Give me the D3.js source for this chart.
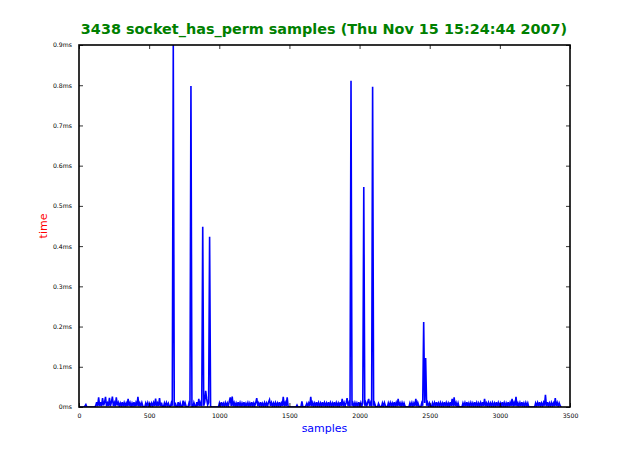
<!DOCTYPE html>
<html>
<head>
<meta charset="utf-8">
<script src="https://cdn.jsdelivr.net/npm/d3@7"></script>
<style>
  body { margin: 0; background: #fff; }
  svg { display: block; }
  text { font-family: "DejaVu Sans", sans-serif; }
</style>
</head>
<body>
<svg id="chart" width="633" height="453"></svg>
<script>
// ---- data ----
const titleText = "3438 socket_has_perm samples (Thu Nov 15 15:24:44 2007)";
const xLabel = "samples";
const yLabel = "time";
const sampleStep = 7;           // one listed value every 7 samples
const xTicks = [0, 500, 1000, 1500, 2000, 2500, 3000, 3500];
const yTicks = [0, 0.1, 0.2, 0.3, 0.4, 0.5, 0.6, 0.7, 0.8, 0.9];
const yTickLabels = ["0ms","0.1ms","0.2ms","0.3ms","0.4ms","0.5ms","0.6ms","0.7ms","0.8ms","0.9ms"];
// sample times in microseconds (every 7th sample)
const timesUs = [
  0,0,0,0,0,0,2,6,0,0, 0,0,0,0,0,0,0,3,12,2,
  24,3,12,2,22,4,11,25,2,10, 3,23,2,12,26,3,11,2,24,4,
  11,2,10,3,12,2,11,3,10,2, 20,3,11,2,10,3,12,2,11,3,
  25,2,10,3,11,2,0,0,10,3, 11,2,9,3,10,2,11,3,21,2,
  10,3,22,2,11,0,0,10,2,11, 3,9,2,0,10,3,900,2,11,0,
  0,12,2,10,0,0,16,3,11,2, 0,0,10,3,798,2,0,11,3,0,
  12,2,20,3,11,2,448,3,12,40, 20,5,11,423,2,0,0,0,0,0,
  0,0,0,10,2,12,3,9,2,11, 3,10,2,13,24,3,26,2,11,3,
  10,2,12,3,11,2,10,3,12,2, 9,3,11,2,10,3,12,2,10,3,
  11,22,3,10,2,12,3,9,2,11, 3,10,2,12,18,3,11,2,10,3,
  11,2,10,3,12,2,10,3,25,2, 11,3,24,0,0,0,0,0,0,0,
  0,0,5,0,0,0,0,14,0,0, 0,3,9,2,10,3,25,2,11,3,
  10,2,12,3,11,2,10,3,12,2, 11,3,10,2,12,3,11,2,10,3,
  12,2,11,3,10,2,12,3,20,2, 11,3,10,22,3,11,2,811,3,10,
  2,11,3,10,2,12,3,11,2,10, 547,3,11,2,12,20,3,11,2,796,
  3,10,2,0,0,9,3,0,0,10, 2,11,3,0,0,10,2,11,3,10,
  2,12,3,11,2,20,3,10,2,11, 3,10,2,0,0,0,0,10,3,11,
  2,10,3,20,2,11,3,0,0,10, 3,211,10,122,3,11,2,10,3,0,
  10,2,11,3,12,2,10,3,11,2, 10,3,12,2,11,3,10,2,12,3,
  20,2,24,3,11,2,10,0,0,0, 0,10,3,11,2,12,3,10,2,11,
  3,10,2,12,3,11,2,10,3,11, 2,12,3,20,2,10,3,11,2,10,
  3,11,2,10,3,12,2,11,3,10, 2,12,3,11,2,10,3,12,2,11,
  3,20,2,11,3,25,2,10,3,11, 2,12,3,10,2,11,3,10,0,0,
  0,0,0,0,0,10,3,11,2,12, 3,10,2,11,3,30,2,12,3,10,
  2,11,3,10,2,22,3,11,2,10,3,0
];

// ---- layout ----
const svg = d3.select("#chart");
const L = 79, R = 570, T = 45, B = 407;

const x = d3.scaleLinear().domain([0, 3500]).range([L, R]);
const y = d3.scaleLinear().domain([0, 0.9]).range([B, T]);

const data = timesUs.map((v, i) => ({ s: i * sampleStep, t: v / 1000 }));

svg.append("defs").append("clipPath").attr("id", "clip")
  .append("rect").attr("x", L).attr("y", T).attr("width", R - L).attr("height", B - T);

// line
svg.append("path")
  .datum(data)
  .attr("clip-path", "url(#clip)")
  .attr("fill", "none")
  .attr("stroke", "#0000ff")
  .attr("stroke-width", 1.6)
  .attr("stroke-linejoin", "miter")
  .attr("d", d3.line().x(d => x(d.s)).y(d => y(d.t)));

// axes (ticks inward)
const tickSize = 4;
const fontSize = 6.2;
const xb = svg.append("g").attr("transform", `translate(0,${B})`)
  .call(d3.axisBottom(x).tickValues(xTicks).tickSize(-tickSize).tickPadding(tickSize + 3).tickFormat(d3.format("d")));
const xt = svg.append("g").attr("transform", `translate(0,${T})`)
  .call(d3.axisTop(x).tickValues(xTicks).tickSize(-tickSize).tickFormat(""));
const yl = svg.append("g").attr("transform", `translate(${L},0)`)
  .call(d3.axisLeft(y).tickValues(yTicks).tickSize(-tickSize).tickPadding(tickSize + 3)
    .tickFormat((d, i) => yTickLabels[i]));
const yr = svg.append("g").attr("transform", `translate(${R},0)`)
  .call(d3.axisRight(y).tickValues(yTicks).tickSize(-tickSize).tickFormat(""));

[xb, xt, yl, yr].forEach(g => {
  g.select(".domain").remove();
  g.selectAll(".tick line").attr("stroke", "#000").attr("stroke-width", 0.8);
  g.selectAll(".tick text").attr("fill", "#000").style("font-size", fontSize + "px")
    .style("font-family", "DejaVu Sans");
});

// frame
svg.append("rect").attr("x", L).attr("y", T).attr("width", R - L).attr("height", B - T)
  .attr("fill", "none").attr("stroke", "#000").attr("stroke-width", 1.6);

// title
svg.append("text").attr("x", 324).attr("y", 34).attr("text-anchor", "middle")
  .attr("fill", "#008000").style("font-weight", "bold").style("font-size", "14.4px")
  .text(titleText);

// axis labels
svg.append("text").attr("x", (L + R) / 2).attr("y", 432).attr("text-anchor", "middle")
  .attr("fill", "#0000ff").style("font-size", "11px").text(xLabel);
svg.append("text").attr("transform", `translate(47,${(T + B) / 2}) rotate(-90)`)
  .attr("text-anchor", "middle").attr("fill", "#ff0000").style("font-size", "11px").text(yLabel);
</script>
</body>
</html>
